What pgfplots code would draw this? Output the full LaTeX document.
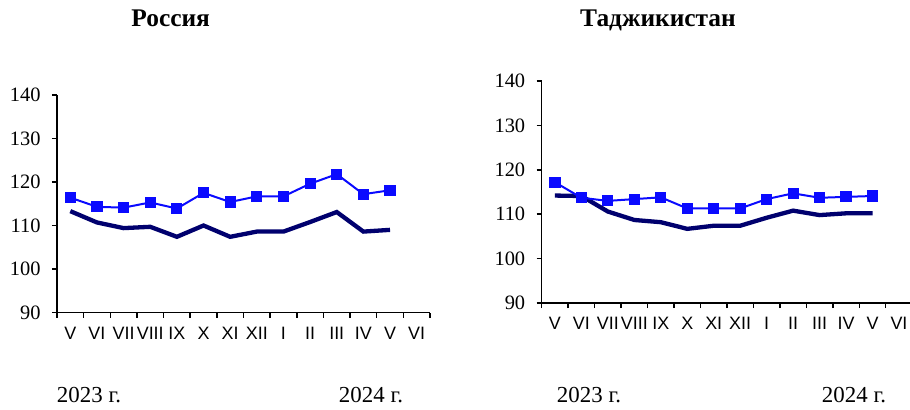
\documentclass[border=0pt]{standalone}
\usepackage{pgfplots}
\pgfplotsset{compat=1.18}
\usepackage{fontspec}
\setmainfont{Liberation Serif}
\newfontfamily\arial{Liberation Sans}
\definecolor{dblue}{RGB}{0,0,110}
\definecolor{bblue}{RGB}{10,10,255}

\pgfplotstableread{
x ru1 ru2 tj1 tj2
0 116.4 113.3 117.2 114.2
1 114.3 110.7 113.7 114.1
2 114.1 109.4 113.0 110.6
3 115.3 109.7 113.4 108.7
4 113.9 107.4 113.8 108.2
5 117.5 110.0 111.3 106.7
6 115.4 107.4 111.3 107.4
7 116.7 108.6 111.3 107.4
8 116.7 108.6 113.4 109.2
9 119.6 110.8 114.7 110.8
10 121.8 113.1 113.7 109.8
11 117.2 108.6 113.9 110.2
12 118.1 109.0 114.1 110.2
}\data

\pgfplotsset{
  mystyle/.style={
    scale only axis,
    axis lines=left,
    axis line style={-, line width=1.5bp, black},
    xmin=-0.5, xmax=13.5,
    ymin=90, ymax=140,
    ytick={90,100,...,140},
    xtick={-0.5,0.5,...,13.5},
    x tick label as interval,
    xticklabels={V,VI,VII,VIII,IX,X,XI,XII,I,II,III,IV,V,VI},
    tick align=outside,
    major tick length=5bp,
    tick style={line width=1.5bp, black},
    /pgf/number format/assume math mode=true,
    yticklabel style={font=\fontsize{20.5}{24}\selectfont, xshift=-8bp},
    xticklabel style={font=\arial\fontsize{18}{21}\selectfont, yshift=-6bp},
    clip=false,
  }
}

\begin{document}
\begin{tikzpicture}
\useasboundingbox (0,0) rectangle (910bp,-410bp);

\begin{axis}[mystyle, at={(57bp,-312.5bp)}, anchor=south west, width=373bp, height=217.5bp]
\addplot[dblue, line width=4.3bp, no markers] table[x=x,y=ru2]{\data};
\addplot[bblue, line width=2bp, mark=square*, mark size=4.6bp, mark options={solid}] table[x=x,y=ru1]{\data};
\end{axis}

\begin{axis}[mystyle, at={(541.7bp,-303bp)}, anchor=south west, width=370.5bp, height=222bp]
\addplot[dblue, line width=4.3bp, no markers] table[x=x,y=tj2]{\data};
\addplot[bblue, line width=2bp, mark=square*, mark size=4.6bp, mark options={solid}] table[x=x,y=tj1]{\data};
\end{axis}

\node[anchor=base, font=\bfseries\fontsize{25.5}{29}\selectfont] at (170.7bp,-26.7bp) {Россия};
\node[anchor=base, font=\bfseries\fontsize{25.5}{29}\selectfont] at (658bp,-26.7bp) {Таджикистан};
\node[anchor=base, font=\fontsize{23}{27}\selectfont] at (89bp,-402bp) {2023 г.};
\node[anchor=base, font=\fontsize{23}{27}\selectfont] at (371bp,-402bp) {2024 г.};
\node[anchor=base, font=\fontsize{23}{27}\selectfont] at (589bp,-402bp) {2023 г.};
\node[anchor=base, font=\fontsize{23}{27}\selectfont] at (854bp,-402bp) {2024 г.};
\end{tikzpicture}
\end{document}
